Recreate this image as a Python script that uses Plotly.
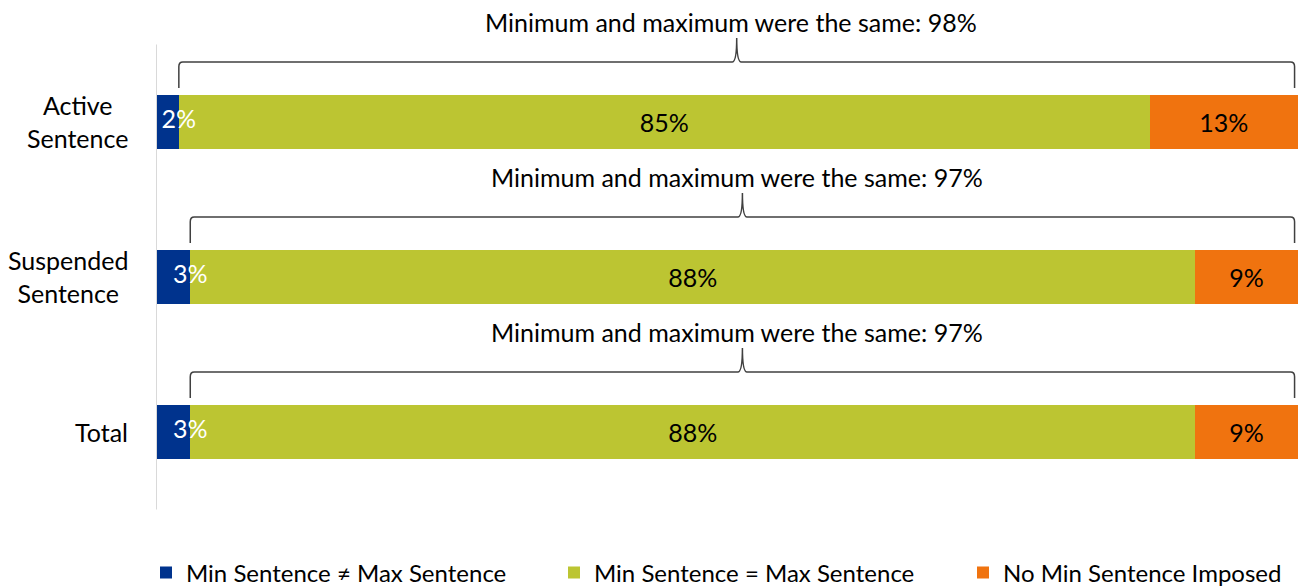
import plotly.graph_objects as go

# data
categories = ["Active<br>Sentence", "Suspended<br>Sentence", "Total"]
min_not_max = [2, 3, 3]
min_eq_max = [85, 88, 88]
no_min = [13, 9, 9]
same_pct = [98, 97, 97]

series_names = ["Min Sentence \u2260 Max Sentence", "Min Sentence = Max Sentence", "No Min Sentence Imposed"]
colors = ["#00338D", "#BCC532", "#F0730F"]

FONT = "Lato"
FS = 25

# the page body has an 8px margin, so the figure is sized to fit inside the window
W, H = 1291, 580
PLOT_W, PLOT_H = 1142, 502

y_pos = list(range(len(categories)))
legend_ids = ["legend", "legend2", "legend3"]

fig = go.Figure()
for name, vals, col, tcol, lg in zip(series_names, [min_not_max, min_eq_max, no_min], colors,
                                     ["white", "black", "black"], legend_ids):
    show_text = name != series_names[0]
    fig.add_trace(go.Bar(
        y=y_pos, x=vals, orientation="h", name=name, width=0.35, legend=lg,
        marker=dict(color=col, line=dict(width=0)),
        text=[f"{v}%" for v in vals] if show_text else None,
        textposition="inside", insidetextanchor="middle",
        textfont=dict(family=FONT, size=FS, color=tcol),
        hoverinfo="skip",
    ))

# small blue segment labels sit on the blue/green boundary, like the original
fig.add_trace(go.Scatter(
    x=min_not_max, y=y_pos, mode="text", text=[f"{v}%" for v in min_not_max],
    textposition="middle center", textfont=dict(family=FONT, size=FS, color="white"),
    showlegend=False, hoverinfo="skip", cliponaxis=False,
))


def brace_path(x0, x1, yc):
    yb, yt, yp = yc - 0.219, yc - 0.387, yc - 0.542
    r, ry, d = 0.35, 0.03, 0.4
    xm = (x0 + x1) / 2
    return (f"M{x0},{yb} L{x0},{yt + ry} Q{x0},{yt} {x0 + r},{yt} "
            f"L{xm - d},{yt} Q{xm},{yt} {xm},{yp} Q{xm},{yt} {xm + d},{yt} "
            f"L{x1 - r},{yt} Q{x1},{yt} {x1},{yt + ry} L{x1},{yb}")


shapes = [dict(type="line", xref="x", yref="y", x0=0, x1=0, y0=-0.5, y1=2.5,
               line=dict(color="#D9D9D9", width=2))]
annotations = []
for i, (lo, pct) in enumerate(zip(min_not_max, same_pct)):
    hi = lo + pct - 0.3
    shapes.append(dict(type="path", xref="x", yref="y", path=brace_path(lo, hi, i),
                       line=dict(color="#404040", width=1.5)))
    annotations.append(dict(x=(lo + hi) / 2 - 0.5, y=i - 0.645, xref="x", yref="y",
                            text=f"Minimum and maximum were the same: {pct}%",
                            showarrow=False, font=dict(family=FONT, size=FS, color="black")))
    annotations.append(dict(x=-26 / PLOT_W, y=i, xref="paper", yref="y", xanchor="right",
                            align="center", text=categories[i], showarrow=False,
                            font=dict(family=FONT, size=FS, color="black")))

legend_style = dict(orientation="h", xanchor="left", y=-63 / PLOT_H, yanchor="middle",
                    font=dict(family=FONT, size=24, color="black"), bgcolor="rgba(0,0,0,0)")
legend_x = [-10, 398, 807]

fig.update_layout(
    barmode="stack",
    width=W, height=H,
    margin=dict(l=148, r=W - 148 - PLOT_W, t=0, b=H - PLOT_H, autoexpand=False),
    plot_bgcolor="white", paper_bgcolor="white",
    font=dict(family=FONT, size=FS, color="black"),
    xaxis=dict(range=[0, 100], visible=False, fixedrange=True),
    yaxis=dict(range=[2.503, -0.735], visible=False, fixedrange=True),
    shapes=shapes,
    annotations=annotations,
    showlegend=True,
)
for lg, lx in zip(legend_ids, legend_x):
    fig.update_layout({lg: dict(legend_style, x=lx / PLOT_W)})

fig.write_html("out.html")
